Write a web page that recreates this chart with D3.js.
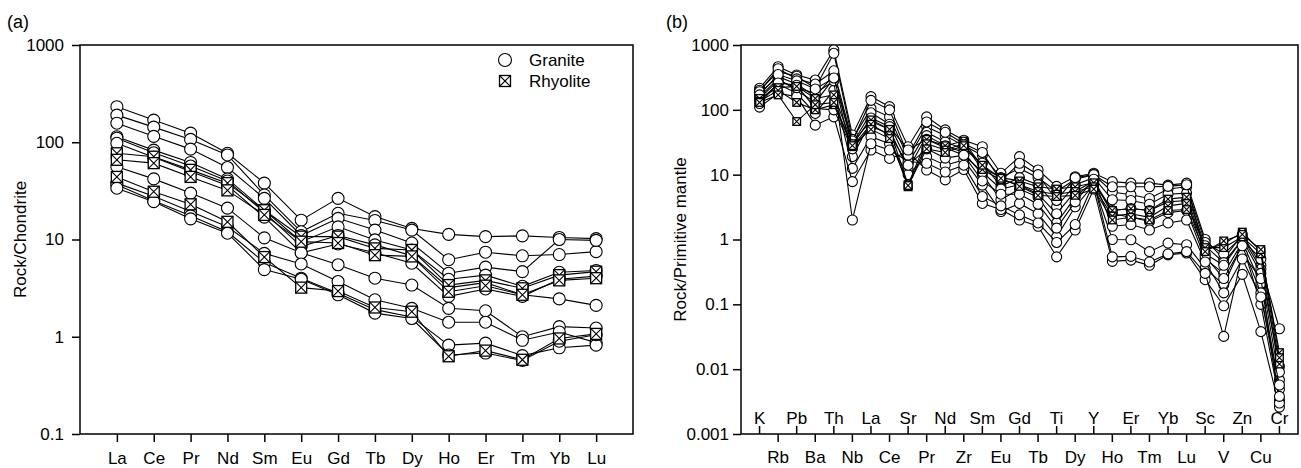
<!DOCTYPE html>
<html><head><meta charset="utf-8">
<script src="https://cdn.jsdelivr.net/npm/d3@7"></script>
<style>
body{margin:0;background:#fff}
svg text{font-family:"Liberation Sans",Arial,Helvetica,sans-serif;fill:#000}
</style>
</head><body>
<svg id="chart" width="1301" height="468"></svg>
<script>
// ---------- Panel (a): chondrite-normalised REE ----------
const reeElements = ["La","Ce","Pr","Nd","Sm","Eu","Gd","Tb","Dy","Ho","Er","Tm","Yb","Lu"];
const graniteA1 = [232,169,124,77,38,15.8,26.5,17.2,13,11.3,10.7,10.9,10.5,10.2];
const graniteA2 = [190,143,107,74,28.7,12,18.6,15.7,12.5,6.2,7.4,6.8,7.0,7.5];
const graniteA3 = [157,115,85,55,26.5,11,16.5,12.5,9.2,4.5,5.2,4.67,10,9.8];
const graniteA4 = [114,83,62,42,20,9.5,13.5,9.9,7.8,3.9,4.3,3.3,4.6,4.8];
const graniteA5 = [110,78,57,40,19,8.5,11,8.8,6.8,3.2,3.6,2.7,2.45,2.1];
const graniteA6 = [97.5,70,50,36,17,7.3,9,7.3,5.7,2.6,3.1,2.6,3.9,4.2];
const graniteA7 = [56,42,30,21,10.4,7.3,5.5,4.0,3.4,1.96,1.85,1.0,1.27,1.23];
const graniteA8 = [38,27.8,19.4,13.5,7.2,5.6,3.7,2.4,1.96,1.41,1.41,0.92,1.12,0.87];
const graniteA9 = [36.5,25,17.5,12,5.8,4.0,2.8,1.9,1.6,0.82,0.86,0.64,0.77,0.82];
const graniteA10 = [33.7,24.5,16.3,11.6,4.9,3.9,2.7,1.75,1.54,0.65,0.68,0.57,0.9,1.05];
const rhyoliteA1 = [77,71,52,38,20,10.7,10.7,8.1,7.8,3.4,3.8,3.15,4.3,4.67];
const rhyoliteA2 = [66,61,44,32,17.9,9.5,9.2,6.9,6.7,2.9,3.35,2.7,3.8,4.0];
const rhyoliteA3 = [44,31,23,15.2,6.6,3.2,2.95,2.0,1.81,0.63,0.72,0.58,0.96,1.07];
const yTicksA = [0.1,1,10,100,1000];

// ---------- Panel (b): primitive-mantle normalised spider ----------
const spiderElements = ["K","Rb","Pb","Ba","Th","Nb","La","Ce","Sr","Pr","Nd","Zr","Sm","Eu","Gd","Tb","Ti","Dy","Y","Ho","Er","Tm","Yb","Lu","Sc","V","Zn","Cu","Cr"];
const graniteB1 = [215,463,345,288,837,41,160,112,27,78,49,34,27,10.5,19,11.8,6.6,9.3,10.5,7.8,7.4,7.4,6.9,7.4,1.0,0.5,1.2,0.4,0.042];
const graniteB2 = [200,388,330,215,745,35,105,78,18,55,40,28,20,9,12.5,9,5.5,8.5,10,5.4,4.9,4.3,6.0,6.5,0.9,0.6,1.1,0.35,0.011];
const graniteB3 = [180,325,250,160,345,30,90,60,15,45,32,25,15,6.6,9,7,3.2,7,9,4.1,4.0,3.5,5.0,5.2,0.8,0.44,1.0,0.3,0.0068];
const graniteB4 = [160,300,200,130,306,19,66,50,12,40,28,22,10,4.1,6,4.5,1.8,4.5,8,2.5,2.2,1.9,2.6,2.8,0.5,0.3,0.9,0.21,0.0049];
const graniteB5 = [140,250,180,88,200,12.5,38.5,30,10,19,14,16.9,6.9,2.7,3.6,2.5,1.1,3.2,7,1.0,0.99,0.65,0.88,0.83,0.36,0.2,0.83,0.1,0.0033];
const graniteB6 = [110,180,160,58,78,7.8,24,17.8,22,11.8,8.3,12,3.6,2.9,2.0,1.6,0.54,1.4,6,0.46,0.48,0.4,0.58,0.62,0.24,0.095,0.29,0.038,0.0026];
const graniteB7 = [150,280,220,180,280,2.0,30,24,16,15,11,14,4.6,3.3,2.4,1.8,0.9,1.7,7.5,0.54,0.55,0.45,0.6,0.65,0.3,0.032,0.6,0.25,0.003];
const graniteB8 = [190,430,300,250,400,33,140,100,20,65,45,30,22,8,15,10,4,9,10,6.5,6.5,6.5,6.6,7,0.6,0.4,1.0,0.5,0.009];
const graniteB9 = [170,350,280,210,310,28.7,75,55,24,35,26,20,11,6,7,5,2.5,5.5,8,2.8,3,2.8,3.8,4,0.55,0.25,0.8,0.15,0.0038];
const graniteB10 = [125,260,240,105,100,25,55,43,14,25,18,20,8,5,5,3.5,1.5,3.8,8.5,1.6,1.7,1.4,1.8,2.0,0.45,0.15,0.5,0.13,0.0057];
const rhyoliteB1 = [150,220,230,150,170,30,70,50,7,35,28,33,13,9,8,6.5,6,6.5,7.5,2.8,3,2.8,4.2,4.5,0.7,0.85,1.3,0.65,0.018];
const rhyoliteB2 = [135,200,130,100,120,27,60,40,6.5,30,24,30,12,8.3,7,5.5,5,5.5,6.5,2.3,2.5,2.2,3.3,3.6,0.75,0.75,1.1,0.6,0.012];
const rhyoliteB3 = [130,170,66,120,130,28,50,36,6.8,25,22,28,14,8.8,6.6,4.8,4.6,4.8,6,2.0,2.2,2.0,2.8,2.9,0.65,0.95,1.2,0.7,0.015];
const yTicksB = [0.001,0.01,0.1,1,10,100,1000];

const granitesA = [graniteA1,graniteA2,graniteA3,graniteA4,graniteA5,graniteA6,graniteA7,graniteA8,graniteA9,graniteA10];
const rhyolitesA = [rhyoliteA1,rhyoliteA2,rhyoliteA3];
const granitesB = [graniteB1,graniteB2,graniteB3,graniteB4,graniteB5,graniteB6,graniteB7,graniteB8,graniteB9,graniteB10];
const rhyolitesB = [rhyoliteB1,rhyoliteB2,rhyoliteB3];

const svg = d3.select("#chart");
const FS = 17;

function drawMarkers(g, pts, type, size) {
  if (type === "circle") {
    g.selectAll(null).data(pts).enter().append("circle")
      .attr("cx", d => d[0]).attr("cy", d => d[1]).attr("r", size)
      .attr("fill", "#fff").attr("stroke", "#000").attr("stroke-width", 1.1);
  } else {
    const s = size;
    const m = g.selectAll(null).data(pts).enter().append("g")
      .attr("transform", d => `translate(${d[0]},${d[1]})`);
    m.append("rect").attr("x", -s).attr("y", -s).attr("width", 2*s).attr("height", 2*s)
      .attr("fill", "#fff").attr("stroke", "#000").attr("stroke-width", 1.3);
    m.append("path").attr("d", `M${-s},${-s}L${s},${s}M${s},${-s}L${-s},${s}`)
      .attr("stroke", "#000").attr("stroke-width", 1.1);
  }
}

function drawSeries(g, x, y, cats, vals, type, size) {
  const pts = vals.map((v, i) => [x(cats[i]), y(v)]);
  g.append("path").attr("d", d3.line()(pts)).attr("fill", "none")
    .attr("stroke", "#000").attr("stroke-width", 1.1);
  drawMarkers(g, pts, type, size);
}

function yAxis(g, y, ticks, left, pad) {
  const ax = d3.axisLeft(y).tickValues(ticks).tickFormat(d => String(d)).tickSize(8).tickPadding(pad);
  const a = g.append("g").attr("transform", `translate(${left},0)`).call(ax);
  a.select(".domain").remove();
  a.selectAll("line").attr("stroke", "#000").attr("stroke-width", 1.5);
  a.selectAll("text").attr("font-size", FS).attr("font-family", null);
}

// ===== Panel (a) =====
{
  const L = 80, R = 633, T = 45, B = 434;
  const x = d3.scalePoint().domain(reeElements).range([L, R]).padding(1);
  const y = d3.scaleLog().domain([0.1, 1000]).range([B, T]);
  const g = svg.append("g");
  g.append("path").attr("d", `M${L},${T}H${R}V${B}H${L}Z`).attr("fill", "none")
    .attr("stroke", "#000").attr("stroke-width", 1.5);
  yAxis(g, y, yTicksA, L, 8);
  const xa = d3.axisBottom(x).tickSize(8).tickPadding(10);
  const xg = g.append("g").attr("transform", `translate(0,${B})`).call(xa);
  xg.select(".domain").remove();
  xg.selectAll("line").attr("stroke", "#000").attr("stroke-width", 1.5);
  xg.selectAll("text").attr("font-size", FS).attr("font-family", null);
  const dg = g.append("g");
  granitesA.forEach(s => drawSeries(dg, x, y, reeElements, s, "circle", 6));
  rhyolitesA.forEach(s => drawSeries(dg, x, y, reeElements, s, "square", 5.5));
  const lg = g.append("g");
  drawMarkers(lg, [[505, 60]], "circle", 6.5);
  drawMarkers(lg, [[505, 81]], "square", 5.5);
  lg.append("text").attr("x", 529).attr("y", 66).attr("font-size", FS).text("Granite");
  lg.append("text").attr("x", 529).attr("y", 87).attr("font-size", FS).text("Rhyolite");
  g.append("text").attr("transform", `translate(26,${(T+B)/2}) rotate(-90)`)
    .attr("text-anchor", "middle").attr("font-size", FS).text("Rock/Chondrite");
  g.append("text").attr("x", 7).attr("y", 28).attr("font-size", 18).text("(a)");
}

// ===== Panel (b) =====
{
  const L = 741, R = 1298, T = 45, B = 434;
  const x = d3.scalePoint().domain(spiderElements).range([L, R]).padding(1);
  const y = d3.scaleLog().domain([0.001, 1000]).range([B, T]);
  const g = svg.append("g");
  g.append("path").attr("d", `M${L},${T}H${R}V${B}H${L}Z`).attr("fill", "none")
    .attr("stroke", "#000").attr("stroke-width", 1.5);
  yAxis(g, y, yTicksB, L, 4);
  const tk = g.append("g");
  spiderElements.forEach((el, i) => {
    const up = i % 2 === 0;
    const xx = x(el);
    tk.append("line").attr("x1", xx).attr("x2", xx)
      .attr("y1", B).attr("y2", up ? B - 8 : B + 8)
      .attr("stroke", "#000").attr("stroke-width", 1.5);
    tk.append("text").attr("x", xx).attr("y", up ? B - 10 : B + 29)
      .attr("text-anchor", "middle").attr("font-size", FS).text(el);
  });
  const dg = g.append("g");
  granitesB.forEach(s => drawSeries(dg, x, y, spiderElements, s, "circle", 5));
  rhyolitesB.forEach(s => drawSeries(dg, x, y, spiderElements, s, "square", 3.8));
  g.append("text").attr("transform", `translate(686,${(T+B)/2}) rotate(-90)`)
    .attr("text-anchor", "middle").attr("font-size", FS).text("Rock/Primitive mantle");
  g.append("text").attr("x", 666).attr("y", 28).attr("font-size", 18).text("(b)");
}
</script>
</body></html>
